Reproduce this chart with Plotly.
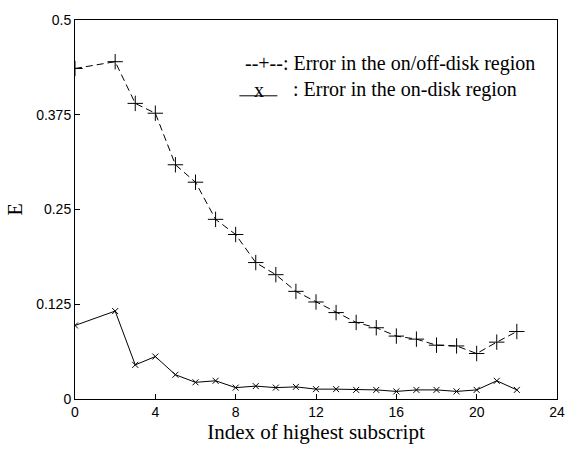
import plotly.graph_objects as go

# Index of the highest subscript (no sample at 1)
index = [0, 2, 3, 4, 5, 6, 7, 8, 9, 10, 11, 12, 13, 14, 15, 16, 17, 18, 19, 20, 21, 22]

# Error in the on/off-disk region
err_onoff = [0.436, 0.445, 0.390, 0.377, 0.309, 0.286, 0.237, 0.217, 0.180, 0.164, 0.142,
             0.128, 0.114, 0.101, 0.094, 0.083, 0.079, 0.071, 0.070, 0.060, 0.075, 0.089]

# Error in the on-disk region
err_on = [0.097, 0.116, 0.045, 0.056, 0.032, 0.022, 0.024, 0.015, 0.017, 0.015, 0.016,
          0.013, 0.013, 0.012, 0.012, 0.010, 0.012, 0.012, 0.010, 0.012, 0.024, 0.012]

x_ticks = [0, 4, 8, 12, 16, 20, 24]
y_ticks = [0, 0.125, 0.25, 0.375, 0.5]
y_tick_text = ["0", "0.125", "0.25", "0.375", "0.5"]

serif = "Liberation Serif, Times New Roman, serif"
sans = "Liberation Sans, Arial, sans-serif"

fig = go.Figure()
fig.add_trace(go.Scatter(
    x=index, y=err_onoff, mode="lines+markers",
    line=dict(color="black", width=1, dash="7px,4px"),
    marker=dict(symbol="cross-thin", size=11, line=dict(color="black", width=1)),
    showlegend=False,
))
fig.add_trace(go.Scatter(
    x=index, y=err_on, mode="lines+markers",
    line=dict(color="black", width=1),
    marker=dict(symbol="x-thin", size=6, line=dict(color="black", width=1)),
    showlegend=False,
))

axis_common = dict(
    showgrid=False, zeroline=False, showline=True, linecolor="black", linewidth=1,
    mirror=True, ticks="inside", ticklen=5, tickcolor="black",
    tickfont=dict(family=sans, size=14, color="black"),
)
fig.update_xaxes(range=[0, 24], tickvals=x_ticks,
                 title=dict(text="Index of highest subscript",
                            font=dict(family=serif, size=21, color="black"), standoff=4),
                 **axis_common)
fig.update_yaxes(range=[0, 0.5], tickvals=y_ticks, ticktext=y_tick_text,
                 title=dict(text="E", font=dict(family=serif, size=20, color="black"), standoff=8),
                 **axis_common)

# Hand-drawn key in the upper right
fig.add_annotation(xref="paper", yref="paper", x=0.349, y=0.884, xanchor="left", yanchor="middle",
                   text="--+--: Error in the on/off-disk region", showarrow=False,
                   font=dict(family=serif, size=20, color="black"))
fig.add_shape(type="line", xref="paper", yref="paper", x0=0.341, x1=0.420, y0=0.800, y1=0.800,
              line=dict(color="black", width=1))
fig.add_annotation(xref="paper", yref="paper", x=0.382, y=0.815, xanchor="center", yanchor="middle",
                   text="x", showarrow=False, font=dict(family=serif, size=20, color="black"))
fig.add_annotation(xref="paper", yref="paper", x=0.449, y=0.817, xanchor="left", yanchor="middle",
                   text=": Error in the on-disk region", showarrow=False,
                   font=dict(family=serif, size=20, color="black"))

fig.update_layout(
    width=577, height=450,
    margin=dict(l=75, r=12, t=15, b=51),
    paper_bgcolor="white", plot_bgcolor="white",
)

fig.write_html("out.html")
